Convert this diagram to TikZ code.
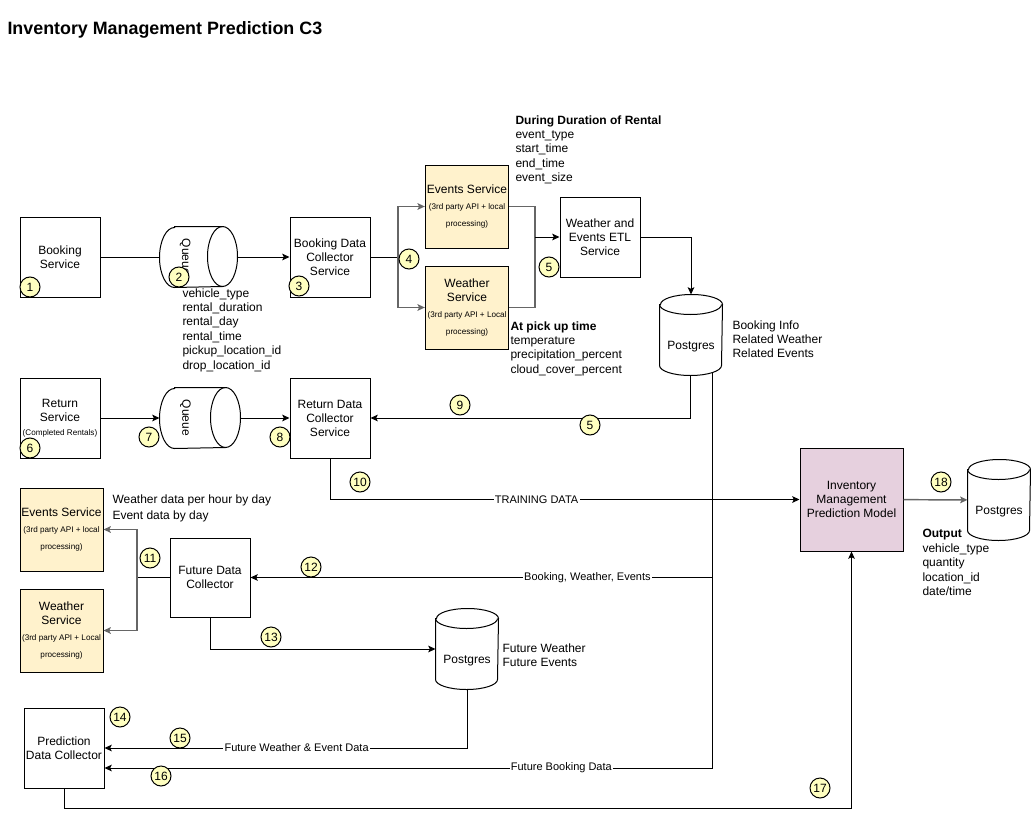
\documentclass[tikz,border=0pt]{standalone}
\usepackage{fontspec}
\setmainfont{Liberation Sans}
\usetikzlibrary{arrows.meta}
\definecolor{thirdpartyfill}{HTML}{FFF2CC}
\definecolor{modelfill}{HTML}{E6D0DE}
\definecolor{badgefill}{HTML}{FFFFC0}
\newcommand{\smallnote}{\fontsize{6.1}{6.5}\selectfont}
\newcommand{\dbshape}[1]{%
	\draw ([yshift=-7.5pt]#1.north west) -- ([yshift=7.5pt]#1.south west)
		arc[start angle=180,end angle=360,x radius=23.25pt,y radius=7.5pt]
		-- ([yshift=-7.5pt]#1.north east)
		arc[start angle=0,end angle=180,x radius=23.25pt,y radius=7.5pt] -- cycle;
	\draw ([yshift=-7.5pt]#1.north west) arc[start angle=180,end angle=360,x radius=23.25pt,y radius=7.5pt];
}
\newcommand{\queueshape}[1]{%
	\draw ([xshift=11.25pt]#1.north west) -- ([xshift=-11.25pt]#1.north east)
		arc[start angle=90,end angle=-90,x radius=11.25pt,y radius=22.5pt]
		-- ([xshift=11.25pt]#1.south west)
		arc[start angle=270,end angle=90,x radius=11.25pt,y radius=22.5pt] -- cycle;
	\draw ([xshift=-11.25pt]#1.north east) arc[start angle=90,end angle=270,x radius=11.25pt,y radius=22.5pt];
}
\tikzset{
	every picture/.style={line width=0.75pt},
	>={Stealth[length=5.5pt,width=5pt,inset=1.2pt]},
	service box/.style={
		rectangle,
		draw,
		align=center,
		minimum width=60pt,
		minimum height=60pt,
		inner sep=1pt,
		font=\fontsize{9}{10.5}\selectfont
	},
	third party/.style={
		service box,
		fill=thirdpartyfill,
		minimum width=62.5pt,
		minimum height=62.25pt
	},
	data store/.style={
		rectangle,
		draw=none,
		minimum width=46.5pt,
		minimum height=60pt,
		inner sep=0pt
	},
	queue box/.style={
		rectangle,
		draw=none,
		minimum height=45pt,
		inner sep=0pt
	},
	step badge/.style={
		circle,
		draw,
		fill=badgefill,
		inner sep=0pt,
		minimum size=15pt,
		font=\fontsize{9}{9}\selectfont
	},
	note/.style={
		anchor=north west,
		align=left,
		inner sep=0pt,
		font=\fontsize{9}{10.8}\selectfont
	},
	flow/.style={draw=black},
	grey flow/.style={draw=black!60,line width=1.1pt},
	flow label/.style={fill=white,inner sep=1pt,font=\fontsize{8.25}{9}\selectfont},
}
\begin{document}
\begin{tikzpicture}[x=0.75pt,y=-0.75pt]
\useasboundingbox (0,0) rectangle (1031,817);

\node[anchor=west,inner sep=0pt,font=\bfseries\fontsize{13.4}{15}\selectfont] (title) at (7,30) {Inventory Management Prediction C3};

\node[service box] (bookingService) at (60,257) {Booking\\Service};
\node[queue box,minimum width=57.75pt,label={[xshift=-10pt,rotate=-90,font=\fontsize{9}{9}\selectfont]center:Queue}] (queueBooking) at (198.5,257) {};
\node[service box] (bookingCollector) at (330,257) {Booking Data\\Collector\\Service};
\node[third party] (eventsService) at (467,206.5) {Events Service\\[1.5pt]\smallnote (3rd party API + local\\[2.5pt]\smallnote processing)};
\node[third party] (weatherService) at (467,307.5) {Weather\\Service\\[1.5pt]\smallnote (3rd party API + Local\\[2.5pt]\smallnote processing)};
\node[service box] (etlService) at (600,237) {Weather and\\Events ETL\\Service};
\node[data store,label={[yshift=-8.5pt,font=\fontsize{9}{9}\selectfont]center:Postgres}] (postgresMain) at (691,335) {};

\node[service box] (returnService) at (60,418) {Return\\Service\\\smallnote (Completed Rentals)};
\node[queue box,minimum width=60pt,label={[xshift=-11pt,rotate=-90,font=\fontsize{9}{9}\selectfont]center:Queue}] (queueReturn) at (200,418) {};
\node[service box] (returnCollector) at (330,418) {Return Data\\Collector\\Service};

\node[service box,fill=modelfill,minimum width=77.25pt,minimum height=77.25pt] (predictionModel) at (851.5,499.5) {Inventory\\Management\\Prediction Model};
\node[data store,label={[yshift=-9pt,font=\fontsize{9}{9}\selectfont]center:Postgres}] (postgresOutput) at (999,500) {};

\node[third party,minimum width=62.25pt] (futureEvents) at (61.5,529.5) {Events Service\\[1.5pt]\smallnote (3rd party API + local\\[2.5pt]\smallnote processing)};
\node[third party,minimum width=62.25pt] (futureWeather) at (61.5,630.5) {Weather\\Service\\[1.5pt]\smallnote (3rd party API + Local\\[2.5pt]\smallnote processing)};
\node[service box,minimum height=59.25pt] (futureCollector) at (210,577.5) {Future Data\\Collector};
\node[data store,label={[yshift=-9pt,font=\fontsize{9}{9}\selectfont]center:Postgres}] (postgresFuture) at (467,649) {};
\node[service box] (predictionCollector) at (64,748) {Prediction\\Data Collector};

\dbshape{postgresMain}
\dbshape{postgresOutput}
\dbshape{postgresFuture}
\queueshape{queueBooking}
\queueshape{queueReturn}

\node[note] (queueFields) at (182,288) {vehicle\_type\\rental\_duration\\rental\_day\\rental\_time\\pickup\_location\_id\\drop\_location\_id};
\node[note] (eventFields) at (515,115) {\textbf{During Duration of Rental}\\event\_type\\start\_time\\end\_time\\event\_size};
\node[note] (weatherFields) at (510,321) {\textbf{At pick up time}\\temperature\\precipitation\_percent\\cloud\_cover\_percent};
\node[note] (storedFields) at (732,320) {Booking Info\\Related Weather\\Related Events};
\node[note,font=\fontsize{9}{12}\selectfont] (futureFields) at (112,494) {Weather data per hour by day\\Event data by day};
\node[note] (outputFields) at (922,529) {\textbf{Output}\\vehicle\_type\\quantity\\location\_id\\date/time};
\node[note] (futureStored) at (502,643) {Future Weather\\Future Events};

\coordinate (split) at (398,257);
\coordinate (merge) at (535,237);
\coordinate (fanOut) at (137,577.5);
\coordinate (dbLeft) at ([xshift=-0.75pt]postgresMain.south);
\coordinate (dbRight) at ([xshift=15.75pt,yshift=2pt]postgresMain.south);
\coordinate (futureTap) at (dbRight |- futureCollector);

\draw[flow] (bookingService) -- (queueBooking);
\draw[flow,->] (queueBooking) -- (bookingCollector);
\draw[flow] (bookingCollector) -- (split);
\draw[grey flow,->] (split) |- (eventsService);
\draw[grey flow,->] (split) |- (weatherService);
\draw[grey flow] (eventsService) -| (merge);
\draw[grey flow] (weatherService) -| (merge);
\draw[flow,->] (merge) -- (etlService);
\draw[flow,->] (etlService) -| (postgresMain);

\draw[flow,->] (returnService) -- (queueReturn);
\draw[flow,->] (queueReturn) -- (returnCollector);
\draw[flow,->] (dbLeft) |- (returnCollector);
\draw[flow,->] (returnCollector) |- node[flow label,pos=0.72] (trainingLabel) {TRAINING DATA} (predictionModel);
\draw[grey flow,->] (predictionModel) -- (postgresOutput);

\draw[flow,->] (dbRight) |- node[flow label,pos=0.624] (bookingLabel) {Future Booking Data} ([yshift=-15pt]predictionCollector.east);
\draw[flow,->] (futureTap) -- node[flow label,pos=0.27] (futureLabel) {Booking, Weather, Events} (futureCollector);
\draw[flow] (futureCollector) -- (fanOut);
\draw[grey flow,->] (fanOut) |- (futureEvents);
\draw[grey flow,->] (fanOut) |- (futureWeather);
\draw[flow,->] (futureCollector) |- (postgresFuture);
\draw[flow,->] (postgresFuture) |- node[flow label,pos=0.735] (weatherLabel) {Future Weather \& Event Data} (predictionCollector);
\draw[flow,->] (predictionCollector.south) -- ++(0,20) -| (predictionModel.south);

\node[step badge] (step1) at (30,287) {1};
\node[step badge] (step2) at (179,277) {2};
\node[step badge] (step3) at (299,286) {3};
\node[step badge] (step4) at (409,259) {4};
\node[step badge] (step5) at (549,267) {5};
\node[step badge] (step6) at (30,448) {6};
\node[step badge] (step7) at (149,437) {7};
\node[step badge] (step8) at (280,437) {8};
\node[step badge] (step9) at (460,405) {9};
\node[step badge] (step5b) at (590,425) {5};
\node[step badge] (step10) at (360,482) {10};
\node[step badge] (step11) at (150,558) {11};
\node[step badge] (step12) at (311,567) {12};
\node[step badge] (step13) at (271,637) {13};
\node[step badge] (step14) at (120,717) {14};
\node[step badge] (step15) at (180,738) {15};
\node[step badge] (step16) at (161,776) {16};
\node[step badge] (step17) at (820,788) {17};
\node[step badge] (step18) at (941,482) {18};
\end{tikzpicture}
\end{document}
